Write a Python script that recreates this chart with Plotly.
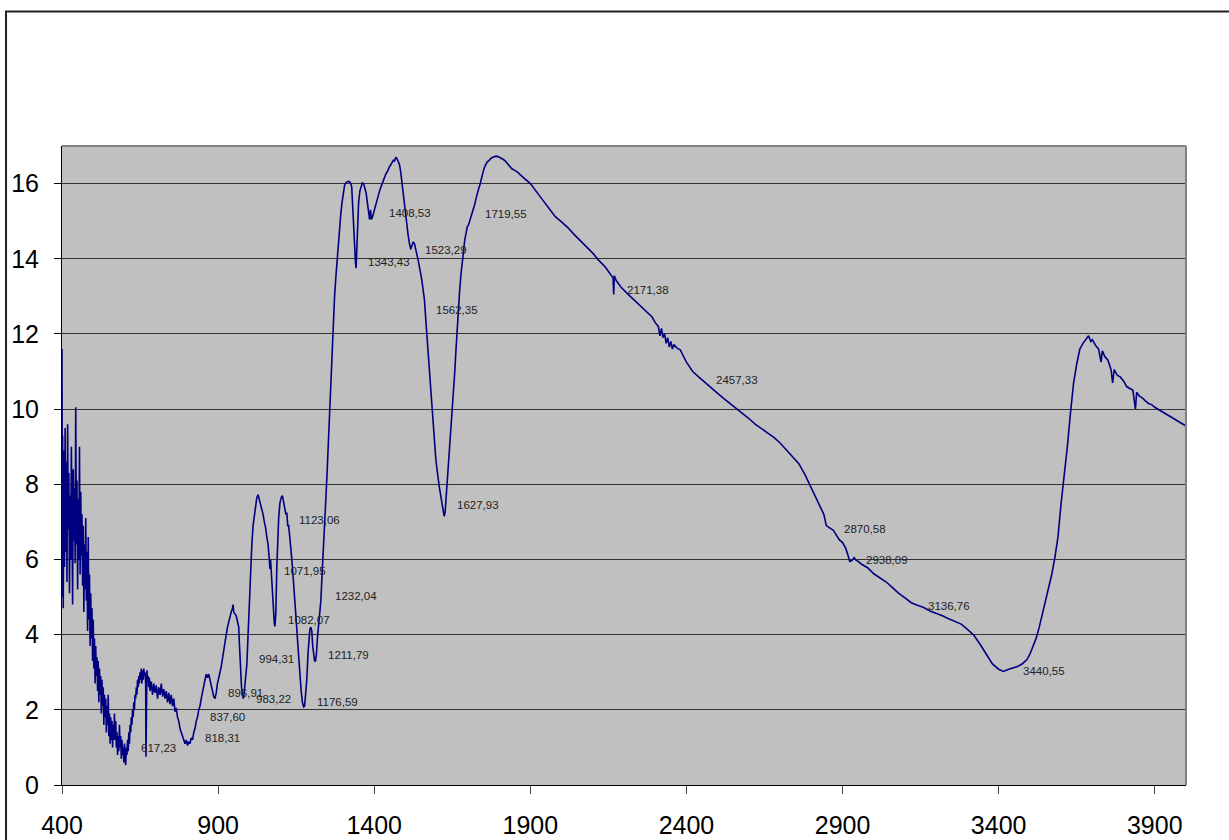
import plotly.graph_objects as go

# ---- spectrum values (wavenumber, value) ----
seg_400_700 = [
    (400, 11.6), (401, 5.0), (402, 9.3), (404, 4.7), (406, 8.9), (408, 5.8), (410, 9.5),
    (412, 6.2), (414, 8.6), (416, 5.4), (418, 9.6), (420, 6.8), (422, 8.3), (424, 5.1),
    (426, 7.7), (428, 6.0), (430, 9.0), (432, 7.2), (434, 4.8), (436, 8.4), (438, 6.5),
    (440, 7.9), (442, 5.9), (444, 10.05), (446, 6.4), (448, 8.1), (450, 5.2), (452, 7.6),
    (454, 6.0), (456, 9.0), (458, 5.6), (460, 7.8), (462, 6.1), (464, 7.2), (466, 5.3),
    (468, 6.9), (470, 4.6), (472, 6.4), (474, 5.2), (476, 7.1), (478, 4.9), (480, 6.2),
    (482, 4.1), (484, 6.6), (486, 4.4), (488, 5.6), (490, 3.7), (492, 5.1), (494, 3.9),
    (496, 4.7), (498, 3.3), (500, 4.4), (502, 3.1), (504, 3.9), (506, 2.7), (508, 3.7),
    (510, 2.9), (512, 3.4), (514, 2.5), (516, 3.3), (518, 2.2), (520, 3.1), (522, 2.4),
    (524, 2.9), (526, 1.9), (528, 2.8), (530, 2.1), (532, 2.6), (534, 1.6), (536, 2.4),
    (538, 1.8), (540, 2.3), (542, 1.4), (544, 2.1), (546, 1.6), (548, 2.4), (550, 1.3),
    (552, 1.9), (554, 1.1), (556, 1.8), (558, 1.2), (560, 1.7), (562, 1.0), (564, 1.6),
    (566, 1.2), (568, 1.9), (570, 1.2), (572, 1.7), (574, 1.0), (576, 1.4), (578, 0.8),
    (580, 1.3), (582, 0.9), (584, 1.6), (586, 1.0), (588, 1.3), (590, 0.7), (592, 1.2),
    (594, 0.8), (596, 1.0), (598, 0.6), (600, 1.1), (602, 0.7), (604, 0.53), (606, 1.0),
    (608, 0.8), (610, 1.2), (612, 0.9), (614, 1.4), (616, 1.1), (618, 1.6), (620, 1.4),
    (622, 1.8), (624, 1.6), (626, 2.0), (628, 1.8), (630, 2.2), (632, 2.0), (634, 2.4),
    (636, 2.3), (638, 2.6), (640, 2.4), (642, 2.8), (644, 2.6), (646, 2.9), (648, 2.7),
    (650, 3.0), (652, 2.8), (654, 3.1), (656, 2.7), (658, 3.05), (660, 2.8), (662, 3.1),
    (664, 2.9), (666, 3.0), (668, 2.7), (669, 0.75), (670, 2.9), (672, 3.05), (674, 2.8),
    (676, 2.9), (678, 2.6), (680, 2.85), (682, 2.5), (686, 2.75), (690, 2.4), (694, 2.7),
    (698, 2.45),
]

seg_700_1250 = [
    (702, 2.65), (706, 2.3), (710, 2.6), (714, 2.4), (718, 2.7), (722, 2.35), (726, 2.55),
    (730, 2.3), (734, 2.5), (738, 2.2), (742, 2.45), (746, 2.15), (750, 2.4), (754, 2.1),
    (758, 2.3), (762, 1.95), (766, 2.05), (770, 1.8), (774, 1.7), (778, 1.5), (782, 1.4),
    (786, 1.3), (790, 1.2), (794, 1.1), (798, 1.2), (802, 1.05), (806, 1.15), (810, 1.1),
    (814, 1.25), (818, 1.2), (822, 1.4), (826, 1.5), (830, 1.7), (834, 1.8), (838, 2.0),
    (842, 2.1), (846, 2.3), (850, 2.5), (854, 2.7), (858, 2.8), (862, 2.95), (866, 2.85),
    (870, 2.95), (874, 2.8), (878, 2.7), (882, 2.5), (886, 2.35), (890, 2.3), (894, 2.45),
    (898, 2.7), (902, 2.9), (906, 3.0), (910, 3.15), (914, 3.4), (918, 3.6), (922, 3.8),
    (926, 4.0), (930, 4.2), (934, 4.35), (938, 4.5), (942, 4.6), (946, 4.7), (948, 4.8),
    (950, 4.6), (954, 4.55), (958, 4.5), (962, 4.35), (966, 4.2), (968, 3.8), (970, 3.4),
    (972, 3.0), (975, 2.6), (978, 2.4), (981, 2.3), (984, 2.5), (988, 2.9), (992, 3.2),
    (996, 4.0), (1000, 5.0), (1004, 5.8), (1008, 6.4), (1012, 6.9), (1016, 7.2), (1020, 7.5),
    (1024, 7.65), (1028, 7.72), (1032, 7.6), (1036, 7.5), (1040, 7.35), (1044, 7.2),
    (1048, 7.0), (1052, 6.85), (1056, 6.6), (1060, 6.4), (1064, 6.0), (1066, 5.75),
    (1068, 6.0), (1070, 5.7), (1072, 5.4), (1074, 5.0), (1077, 4.6), (1080, 4.3),
    (1082, 4.22), (1085, 4.6), (1088, 5.8), (1091, 6.5), (1094, 7.1), (1098, 7.5),
    (1102, 7.65), (1106, 7.7), (1110, 7.55), (1114, 7.4), (1117, 7.2), (1120, 7.25),
    (1123, 6.9), (1126, 6.9), (1130, 6.6), (1134, 6.2), (1138, 5.8), (1142, 5.4),
    (1146, 4.9), (1150, 4.4), (1154, 3.9), (1158, 3.4), (1162, 2.9), (1166, 2.5),
    (1170, 2.2), (1174, 2.08), (1177, 2.1), (1180, 2.4), (1184, 2.8), (1188, 3.5),
    (1191, 4.0), (1194, 4.15), (1197, 4.2), (1200, 4.1), (1203, 3.7), (1206, 3.4),
    (1209, 3.3), (1212, 3.3), (1215, 3.5), (1218, 3.9), (1221, 4.15), (1225, 4.5),
    (1229, 4.9), (1233, 5.6), (1237, 6.4), (1241, 7.0), (1245, 7.6), (1249, 8.3),
]

seg_1250_1900 = [
    (1253, 9.1), (1257, 10.0), (1261, 11.0), (1265, 11.8), (1269, 12.4), (1273, 13.0),
    (1277, 13.5), (1281, 14.0), (1285, 14.4), (1289, 14.8), (1293, 15.2), (1297, 15.5),
    (1301, 15.8), (1305, 15.95), (1309, 16.02), (1313, 16.05), (1317, 16.06), (1321, 16.05),
    (1325, 16.0), (1328, 15.9), (1331, 15.5), (1334, 15.0), (1337, 14.4), (1340, 13.9),
    (1342, 13.75), (1344, 14.2), (1347, 15.0), (1350, 15.5), (1354, 15.8), (1358, 15.95),
    (1362, 16.02), (1366, 16.0), (1370, 15.9), (1374, 15.75), (1378, 15.5), (1382, 15.2),
    (1385, 15.05), (1388, 15.3), (1391, 15.05), (1394, 15.1), (1397, 15.2), (1401, 15.3),
    (1405, 15.45), (1409, 15.6), (1413, 15.7), (1417, 15.8), (1421, 15.9), (1425, 16.0),
    (1429, 16.05), (1433, 16.2), (1437, 16.25), (1441, 16.3), (1445, 16.4), (1449, 16.45),
    (1453, 16.5), (1457, 16.55), (1461, 16.62), (1465, 16.6), (1469, 16.7), (1473, 16.66),
    (1477, 16.6), (1481, 16.5), (1485, 16.3), (1489, 16.0), (1493, 15.7), (1497, 15.4),
    (1501, 15.1), (1505, 14.9), (1509, 14.6), (1513, 14.4), (1517, 14.25), (1521, 14.35),
    (1525, 14.45), (1529, 14.4), (1533, 14.2), (1537, 14.1), (1541, 13.95), (1545, 13.8),
    (1549, 13.6), (1553, 13.4), (1557, 13.2), (1561, 12.9), (1565, 12.4), (1569, 11.9),
    (1573, 11.4), (1577, 11.0), (1581, 10.5), (1585, 10.0), (1589, 9.5), (1593, 9.1),
    (1597, 8.7), (1601, 8.4), (1605, 8.1), (1609, 7.9), (1613, 7.7), (1617, 7.5),
    (1621, 7.25), (1624, 7.15), (1627, 7.25), (1630, 7.6), (1634, 8.0), (1638, 8.5),
    (1642, 9.0), (1646, 9.5), (1650, 10.0), (1654, 10.5), (1658, 11.0), (1662, 11.6),
    (1666, 12.2), (1670, 12.8), (1674, 13.2), (1678, 13.6), (1682, 14.0), (1686, 14.2),
    (1690, 14.5), (1694, 14.7), (1698, 14.85), (1702, 14.9), (1706, 15.0), (1710, 15.1),
    (1714, 15.2), (1718, 15.3), (1722, 15.45), (1726, 15.6), (1730, 15.75), (1734, 15.85),
    (1738, 15.95), (1742, 16.1), (1746, 16.25), (1750, 16.35), (1754, 16.45), (1758, 16.52),
    (1762, 16.58), (1766, 16.6), (1770, 16.65), (1775, 16.68), (1780, 16.7), (1785, 16.72),
    (1790, 16.73), (1796, 16.72), (1802, 16.7), (1808, 16.68), (1814, 16.64), (1820, 16.6),
    (1830, 16.5), (1840, 16.4), (1850, 16.35), (1860, 16.3), (1870, 16.22), (1880, 16.15),
    (1890, 16.08),
]

seg_1900_3000 = [
    (1900, 16.0), (1920, 15.78), (1940, 15.55), (1960, 15.32), (1980, 15.12), (2000, 14.98),
    (2020, 14.83), (2040, 14.65), (2060, 14.48), (2080, 14.3), (2100, 14.15), (2120, 13.95),
    (2140, 13.78), (2160, 13.55), (2165, 13.5), (2167, 13.05), (2169, 13.55), (2175, 13.42),
    (2190, 13.25), (2210, 13.08), (2230, 12.92), (2250, 12.75), (2270, 12.6), (2290, 12.45),
    (2300, 12.3), (2310, 12.2), (2315, 11.95), (2320, 12.15), (2325, 11.9), (2330, 12.0),
    (2335, 11.75), (2340, 11.9), (2345, 11.65), (2350, 11.8), (2355, 11.6), (2360, 11.72),
    (2370, 11.62), (2380, 11.58), (2400, 11.25), (2420, 11.0), (2440, 10.85), (2460, 10.7),
    (2480, 10.55), (2500, 10.42), (2520, 10.28), (2540, 10.15), (2560, 10.02), (2580, 9.88),
    (2600, 9.75), (2620, 9.6), (2640, 9.48), (2660, 9.35), (2680, 9.25), (2700, 9.1),
    (2720, 8.92), (2740, 8.75), (2760, 8.55), (2780, 8.25), (2800, 7.9), (2820, 7.55),
    (2840, 7.2), (2848, 6.9), (2855, 6.85), (2862, 6.82), (2870, 6.78), (2880, 6.65),
    (2890, 6.52), (2900, 6.45), (2910, 6.3), (2918, 6.1), (2923, 5.95), (2930, 5.97),
    (2937, 6.05), (2943, 5.98), (2950, 5.95), (2960, 5.88), (2970, 5.83), (2980, 5.78),
]

seg_3000_4000 = [
    (3000, 5.62), (3020, 5.52), (3040, 5.4), (3060, 5.25), (3080, 5.1), (3100, 4.98),
    (3120, 4.85), (3140, 4.78), (3160, 4.72), (3180, 4.63), (3200, 4.57), (3220, 4.5),
    (3240, 4.42), (3260, 4.36), (3280, 4.28), (3300, 4.14), (3320, 3.99), (3340, 3.75),
    (3360, 3.48), (3380, 3.22), (3400, 3.08), (3415, 3.02), (3430, 3.07), (3445, 3.1),
    (3460, 3.15), (3475, 3.22), (3490, 3.33), (3500, 3.48), (3510, 3.68), (3520, 3.9),
    (3530, 4.2), (3540, 4.55), (3550, 4.85), (3560, 5.2), (3570, 5.6), (3580, 6.05),
    (3590, 6.6), (3600, 7.5), (3610, 8.2), (3620, 9.0), (3630, 9.9), (3640, 10.7),
    (3650, 11.2), (3660, 11.6), (3670, 11.75), (3680, 11.88), (3688, 11.95), (3695, 11.8),
    (3700, 11.85), (3710, 11.7), (3720, 11.6), (3728, 11.25), (3732, 11.55), (3740, 11.4),
    (3750, 11.3), (3760, 11.05), (3765, 10.7), (3770, 11.05), (3780, 10.9), (3790, 10.85),
    (3800, 10.75), (3810, 10.6), (3820, 10.55), (3830, 10.5), (3838, 10.0), (3842, 10.45),
    (3850, 10.35), (3860, 10.3), (3870, 10.22), (3880, 10.15), (3890, 10.12), (3900, 10.05),
    (3920, 9.95), (3940, 9.85), (3960, 9.75), (3980, 9.65), (4000, 9.55),
]

# ---- peak labels (text, x, y of left end of the label) ----
peak_labels = ["617,23", "818,31", "837,60", "896,91", "983,22", "994,31", "1082,07",
               "1071,95", "1123,06", "1232,04", "1211,79", "1176,59", "1627,93", "1562,35",
               "1523,29", "1343,43", "1408,53", "1719,55", "2171,38", "2457,33", "2870,58",
               "2938,09", "3136,76", "3440,55"]
label_x = [647, 852, 868, 925, 1015, 1025, 1118, 1105, 1153, 1268, 1246, 1210, 1659, 1592,
           1556, 1374, 1441, 1749, 2203, 2488, 2898, 2969, 3168, 3472]
label_y = [0.98, 1.25, 1.81, 2.45, 2.29, 3.35, 4.39, 5.70, 7.06, 5.03, 3.46, 2.21, 7.45, 12.65,
           14.24, 13.92, 15.23, 15.18, 13.18, 10.78, 6.82, 5.99, 4.77, 3.04]

x_ticks = [400, 900, 1400, 1900, 2400, 2900, 3400, 3900]
y_ticks = [0, 2, 4, 6, 8, 10, 12, 14, 16]

points = seg_400_700 + seg_700_1250 + seg_1250_1900 + seg_1900_3000 + seg_3000_4000
wn = [p[0] for p in points]
val = [p[1] for p in points]

fig = go.Figure()
fig.add_trace(go.Scatter(x=wn, y=val, mode="lines",
                         line=dict(color="#000080", width=1.6), showlegend=False,
                         hoverinfo="skip"))

font_family = "Liberation Sans, Arial, sans-serif"
for t, x, y in zip(peak_labels, label_x, label_y):
    fig.add_annotation(x=x, y=y, text=t, showarrow=False, xanchor="left", yanchor="middle",
                       font=dict(family=font_family, size=11.5, color="#222222"))

fig.update_layout(
    width=1229, height=840,
    margin=dict(l=62, r=43, t=146, b=55, autoexpand=False),
    paper_bgcolor="white", plot_bgcolor="#C0C0C0",
    font=dict(family=font_family, color="black"),
    showlegend=False,
    xaxis=dict(range=[400, 4000], tickvals=x_ticks, ticktext=[str(v) for v in x_ticks],
               ticks="outside", ticklen=8, tickcolor="#444", tickwidth=1,
               showline=True, linecolor="black", linewidth=1, automargin=False,
               showgrid=False, zeroline=False, ticklabelstandoff=10,
               tickfont=dict(size=25, family=font_family, color="black")),
    yaxis=dict(range=[0, 17], tickvals=y_ticks, ticktext=[str(v) for v in y_ticks],
               ticks="outside", ticklen=7, tickcolor="black", tickwidth=1,
               showline=True, linecolor="black", linewidth=1, automargin=False,
               showgrid=True, gridcolor="#333333", gridwidth=1, zeroline=False,
               ticklabelstandoff=10,
               tickfont=dict(size=25, family=font_family, color="black")),
    shapes=[
        dict(type="line", xref="paper", yref="paper", x0=0, x1=1, y0=1, y1=1,
             line=dict(color="#808080", width=2)),
        dict(type="line", xref="paper", yref="paper", x0=1, x1=1, y0=0, y1=1,
             line=dict(color="#808080", width=2)),
        dict(type="rect", xref="paper", yref="paper", x0=-0.0498, x1=1.2, y0=-0.2, y1=1.2105,
             line=dict(color="#222222", width=2), fillcolor="rgba(0,0,0,0)", layer="below"),
    ],
)

fig.write_html("out.html", config={"displayModeBar": False},
               post_script="document.body.style.margin='0';")
